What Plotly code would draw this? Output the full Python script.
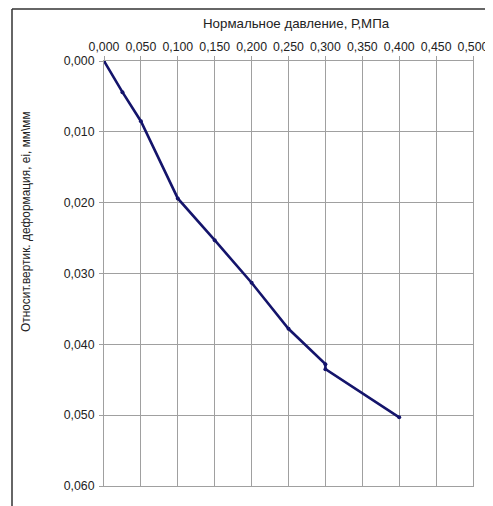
import plotly.graph_objects as go

pressure = [0.0, 0.025, 0.05, 0.1, 0.15, 0.2, 0.25, 0.3, 0.3, 0.4]
strain = [0.0, 0.0044, 0.0085, 0.0194, 0.0253, 0.0313, 0.0378, 0.0428, 0.0435, 0.0503]

x_title = "Нормальное давление, Р,МПа"
y_title = "Относит.вертик. деформация, ei, мм\\мм"

fig = go.Figure()
fig.add_trace(go.Scatter(
    x=pressure, y=strain, mode="lines+markers",
    line=dict(color="#14146b", width=2.6),
    marker=dict(color="#14146b", size=4),
    showlegend=False, hoverinfo="skip",
))

OFF = 8  # page body margin
W, H = 493 - OFF, 506 - OFF
L, T = 104 - OFF, 61 - OFF
Rpx, Bpx = 473 - OFF, 486 - OFF
R, B = W - Rpx, H - Bpx
pw, ph = W - L - R, H - T - B

def px(x):
    return (x - OFF - L) / pw

def py(y):
    return (H - B - (y - OFF)) / ph

font = dict(family="Liberation Sans, Arial, sans-serif", size=12, color="#222")

fig.update_layout(
    width=W, height=H,
    margin=dict(l=L, r=R, t=T, b=B, autoexpand=False),
    paper_bgcolor="white", plot_bgcolor="white",
    separators=", ",
    font=font,
    xaxis=dict(
        side="top", range=[0, 0.5], dtick=0.05, tick0=0, tickformat=".3f",
        showgrid=True, gridcolor="#a0a0a0", gridwidth=1,
        showline=True, linecolor="#a0a0a0", linewidth=1, mirror=True,
        ticks="outside", ticklen=4, tickcolor="#a0a0a0",
        zeroline=False, automargin=False,
        tickfont=dict(size=12.3),
    ),
    yaxis=dict(
        range=[0.06, 0], dtick=0.01, tick0=0, tickformat=".3f",
        showgrid=True, gridcolor="#a0a0a0", gridwidth=1,
        showline=True, linecolor="#a0a0a0", linewidth=1, mirror=True,
        ticks="outside", ticklen=4, tickcolor="#a0a0a0",
        zeroline=False, automargin=False, ticklabelstandoff=2,
        tickfont=dict(size=12.3),
    ),
    annotations=[
        dict(text=x_title, xref="paper", yref="paper", x=px(296), y=py(24),
             xanchor="center", yanchor="middle", showarrow=False,
             font=dict(size=13.3)),
        dict(text=y_title, xref="paper", yref="paper", x=px(26), y=py(222),
             xanchor="center", yanchor="middle", showarrow=False, textangle=-90,
             font=dict(size=11.9)),
    ],
    shapes=[
        dict(type="line", xref="paper", yref="paper",
             x0=px(12), x1=px(12), y0=py(9), y1=py(520),
             line=dict(color="#333", width=1.5)),
        dict(type="line", xref="paper", yref="paper",
             x0=px(12), x1=px(500), y0=py(9), y1=py(9),
             line=dict(color="#333", width=1.5)),
    ],
)

fig.write_html("out.html")
